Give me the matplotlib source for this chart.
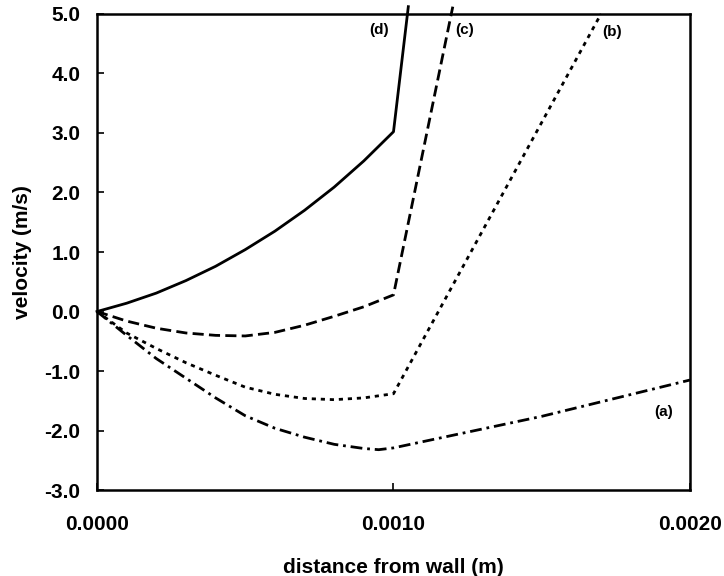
import matplotlib
matplotlib.use('Agg')
import matplotlib.pyplot as plt

plt.rcParams['font.family'] = ['Liberation Sans', 'DejaVu Sans']
plt.rcParams['font.weight'] = 'bold'
plt.rcParams['lines.scale_dashes'] = False

# velocity profiles, distance from wall in m
x_a = [0, 0.0001, 0.0002, 0.0003, 0.0004, 0.0005, 0.0006, 0.0007, 0.0008, 0.0009, 0.00095, 0.001, 0.0015, 0.002]
v_a = [0, -0.40, -0.79, -1.12, -1.45, -1.75, -1.96, -2.11, -2.23, -2.30, -2.32, -2.29, -1.76, -1.15]

x_b = [0, 0.0001, 0.0002, 0.0003, 0.0004, 0.0005, 0.0006, 0.0007, 0.0008, 0.0009, 0.001, 0.0017]
v_b = [0, -0.36, -0.62, -0.86, -1.07, -1.27, -1.39, -1.46, -1.48, -1.45, -1.38, 5.0]

x_c = [0, 0.0001, 0.0002, 0.0003, 0.0004, 0.0005, 0.0006, 0.0007, 0.0008, 0.0009, 0.001, 0.0012]
v_c = [0, -0.16, -0.28, -0.36, -0.40, -0.41, -0.35, -0.23, -0.08, 0.08, 0.28, 5.12]

x_d = [0, 0.0001, 0.0002, 0.0003, 0.0004, 0.0005, 0.0006, 0.0007, 0.0008, 0.0009, 0.001, 0.00105]
v_d = [0, 0.14, 0.31, 0.52, 0.76, 1.04, 1.35, 1.70, 2.09, 2.53, 3.02, 5.12]

curve_names = ['(a)', '(b)', '(c)', '(d)']
label_x = [0.001912, 0.001737, 0.001239, 0.000953]
label_y = [-1.69, 4.69, 4.72, 4.72]

fig = plt.figure(figsize=(7.24, 5.76), dpi=100)
ax = fig.add_axes([0.134, 0.149, 0.819, 0.827])

lw = 2.0
ax.plot(x_a, v_a, color='black', lw=lw, dashes=(8.5, 3.5, 2, 3.5), clip_on=False)
ax.plot(x_b, v_b, color='black', lw=lw, dashes=(3, 3.5), clip_on=False)
ax.plot(x_c, v_c, color='black', lw=lw, dashes=(8, 3.8), clip_on=False)
ax.plot(x_d, v_d, color='black', lw=lw, clip_on=False)

for name, lx, ly in zip(curve_names, label_x, label_y):
    ax.text(lx, ly, name, ha='center', va='center', fontsize=11, fontweight='bold')

ax.set_xlim(0, 0.002)
ax.set_ylim(-3.0, 5.0)
ax.set_xticks([0, 0.001, 0.002])
ax.set_xticklabels(['0.0000', '0.0010', '0.0020'])
ax.set_yticks([-3, -2, -1, 0, 1, 2, 3, 4, 5])
ax.set_yticklabels(['%.1f' % v for v in [-3, -2, -1, 0, 1, 2, 3, 4, 5]])

ax.tick_params(axis='both', direction='in', width=1.2, labelsize=15)
ax.tick_params(axis='x', length=5, pad=18)
ax.tick_params(axis='y', length=5, pad=12)
for s in ax.spines.values():
    s.set_linewidth(1.8)

ax.set_xlabel('distance from wall (m)', fontsize=15, fontweight='bold', labelpad=17)
ax.set_ylabel('velocity (m/s)', fontsize=15, fontweight='bold', labelpad=9)

fig.savefig('out.png', dpi=100)
